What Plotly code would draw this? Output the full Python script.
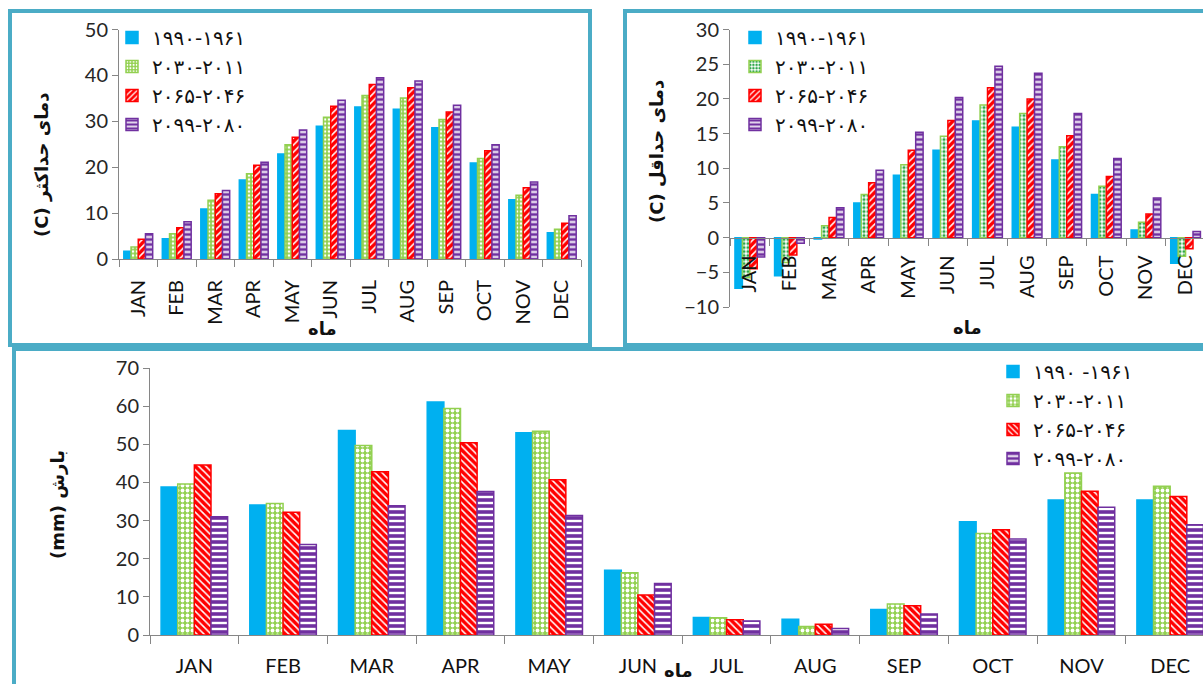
import plotly.graph_objects as go

W, H = 1203, 684

months = ["JAN", "FEB", "MAR", "APR", "MAY", "JUN", "JUL", "AUG", "SEP", "OCT", "NOV", "DEC"]
periods = ["۱۹۹۰-۱۹۶۱", "۲۰۳۰-۲۰۱۱", "۲۰۶۵-۲۰۴۶", "۲۰۹۹-۲۰۸۰"]
periods_precip = ["۱۹۹۰ -۱۹۶۱", "۲۰۳۰-۲۰۱۱", "۲۰۶۵-۲۰۴۶", "۲۰۹۹-۲۰۸۰"]

# Maximum temperature (C)
tmax_1961_1990 = [1.7, 4.4, 10.9, 17.2, 22.9, 28.9, 33.1, 32.6, 28.6, 20.9, 12.9, 5.7]
tmax_2011_2030 = [2.6, 5.5, 12.8, 18.6, 24.9, 30.9, 35.6, 35.1, 30.4, 21.9, 13.9, 6.5]
tmax_2046_2065 = [4.3, 6.8, 14.2, 20.4, 26.5, 33.3, 38.0, 37.3, 32.0, 23.6, 15.5, 7.8]
tmax_2080_2099 = [5.5, 8.1, 14.9, 21.1, 28.1, 34.6, 39.5, 38.8, 33.5, 24.9, 16.8, 9.4]

# Minimum temperature (C)
tmin_1961_1990 = [-7.3, -5.5, -0.2, 5.0, 9.0, 12.6, 16.8, 15.9, 11.2, 6.2, 1.1, -3.7]
tmin_2011_2030 = [-5.8, -3.6, 1.7, 6.2, 10.5, 14.6, 19.1, 17.9, 13.1, 7.4, 2.2, -2.7]
tmin_2046_2065 = [-4.5, -2.5, 2.9, 7.9, 12.6, 16.9, 21.6, 20.0, 14.7, 8.8, 3.4, -1.6]
tmin_2080_2099 = [-2.8, -0.8, 4.3, 9.7, 15.2, 20.2, 24.7, 23.7, 17.9, 11.4, 5.7, 0.9]

# Precipitation (mm)
prec_1961_1990 = [38.8, 34.1, 53.6, 61.1, 53.0, 17.0, 4.6, 4.1, 6.7, 29.7, 35.4, 35.4]
prec_2011_2030 = [39.6, 34.5, 49.7, 59.4, 53.4, 16.3, 4.5, 2.2, 8.1, 26.6, 42.5, 39.0]
prec_2046_2065 = [44.6, 32.2, 42.8, 50.4, 40.7, 10.5, 4.0, 2.8, 7.7, 27.6, 37.7, 36.3]
prec_2080_2099 = [31.0, 23.7, 33.9, 37.6, 31.3, 13.5, 3.7, 1.7, 5.5, 25.2, 33.5, 28.9]


def px(x):
    return x / W


def py(y):
    return 1 - y / H


BLUE, GREEN, RED, PURPLE = "#00B0F0", "#92D050", "#FF0000", "#7030A0"
colors = [BLUE, GREEN, RED, PURPLE]

pat_top_left = [
    dict(shape=""),
    dict(shape=".", bgcolor=GREEN, fgcolor="white", size=4, solidity=0.35, fillmode="replace"),
    dict(shape="/", bgcolor=RED, fgcolor="white", size=5, solidity=0.3, fillmode="replace"),
    dict(shape="-", bgcolor=PURPLE, fgcolor="white", size=5, solidity=0.4, fillmode="replace"),
]
pat_top_right = [
    dict(shape=""),
    dict(shape=".", bgcolor="white", fgcolor="#2EA84A", size=4, solidity=0.5, fillmode="replace"),
    dict(shape="/", bgcolor=RED, fgcolor="white", size=5, solidity=0.3, fillmode="replace"),
    dict(shape="-", bgcolor=PURPLE, fgcolor="white", size=5, solidity=0.4, fillmode="replace"),
]
pat_bottom = [
    dict(shape=""),
    dict(shape=".", bgcolor=GREEN, fgcolor="white", size=5, solidity=0.45, fillmode="replace"),
    dict(shape="\\", bgcolor=RED, fgcolor="white", size=5, solidity=0.3, fillmode="replace"),
    dict(shape="-", bgcolor=PURPLE, fgcolor="white", size=6, solidity=0.4, fillmode="replace"),
]

fig = go.Figure()


def add_group(series, labels, patterns, xa, ya, legend):
    for vals, lab, col, pat in zip(series, labels, colors, patterns):
        fig.add_trace(go.Bar(
            x=months, y=vals, name=lab, xaxis=xa, yaxis=ya, legend=legend,
            marker=dict(color=col, line=dict(color=col, width=1.5), pattern=pat),
            hoverinfo="x+y+name",
        ))


add_group([tmax_1961_1990, tmax_2011_2030, tmax_2046_2065, tmax_2080_2099],
          periods, pat_top_left, "x", "y", "legend")
add_group([tmin_1961_1990, tmin_2011_2030, tmin_2046_2065, tmin_2080_2099],
          periods, pat_top_right, "x2", "y2", "legend2")
add_group([prec_1961_1990, prec_2011_2030, prec_2046_2065, prec_2080_2099],
          periods_precip, pat_bottom, "x3", "y3", "legend3")

AX = "#868686"
TICKFONT = dict(family="Lato", size=20, color="#262626")
XFONT = dict(family="Lato", size=20, color="#111111")

xcommon = dict(type="category", showline=True, linecolor=AX, linewidth=1, ticks="outside",
               tickson="boundaries", ticklen=7, tickcolor=AX, showgrid=False, zeroline=False,
               tickfont=XFONT, fixedrange=True, automargin=False)
ycommon = dict(showline=True, linecolor=AX, linewidth=1, ticks="outside", ticklen=6,
               tickcolor=AX, showgrid=False, zeroline=False, tickfont=TICKFONT, fixedrange=True,
               automargin=False)

legcommon = dict(xanchor="left", yanchor="top", bgcolor="rgba(0,0,0,0)",
                 font=dict(family="DejaVu Sans", size=20, color="#111111"), tracegroupgap=0)

fig.update_layout(
    width=W, height=H, autosize=False,
    margin=dict(l=0, r=0, t=0, b=0, pad=0, autoexpand=False),
    paper_bgcolor="white", plot_bgcolor="white",
    barmode="group", bargap=0.25, bargroupgap=0,
    xaxis=dict(xcommon, domain=[px(119), px(581)], anchor="y", tickangle=-90, range=[-0.5, 11.5],
               ticklabelstandoff=12),
    yaxis=dict(ycommon, domain=[py(259), py(29.5)], anchor="x", range=[0, 50], dtick=10),
    xaxis2=dict(xcommon, domain=[px(730), 1.0], anchor="free", position=py(237.5),
                tickangle=-90, range=[-0.5, 11.44], ticklabelstandoff=9),
    yaxis2=dict(ycommon, domain=[py(307), py(29.5)], anchor="x2", range=[-10, 30], dtick=5),
    xaxis3=dict(xcommon, domain=[px(150), 1.0], anchor="y3", tickangle=0, range=[-0.5, 11.37],
                ticklen=8, ticklabelstandoff=13),
    yaxis3=dict(ycommon, domain=[py(635), py(368)], anchor="x3", range=[0, 70], dtick=10),
    legend=dict(legcommon, x=px(112), y=py(18)),
    legend2=dict(legcommon, x=px(735), y=py(18)),
    legend3=dict(legcommon, x=px(993), y=py(352)),
    showlegend=True,
)

BORDER = "#4BACC6"
for (x0, y0, x1, y1) in [(10, 11, 590, 345), (625, 11, 1215, 345), (14, 349, 1215, 700)]:
    fig.add_shape(type="rect", xref="paper", yref="paper",
                  x0=px(x0), x1=px(x1), y0=py(y1), y1=py(y0),
                  line=dict(color=BORDER, width=4), fillcolor="rgba(0,0,0,0)", layer="below")

TITLEFONT = dict(family="DejaVu Sans", size=18, color="#111111")
annots = [
    ("<b>(C) دمای حداکثر</b>", 42, 165, -90),
    ("<b>(C) دمای حداقل</b>", 656, 152, -90),
    ("<b>(mm) بارش</b>", 57, 505, -90),
    ("<b>ماه</b>", 322, 328, 0),
    ("<b>ماه</b>", 967, 327, 0),
    ("<b>ماه</b>", 678, 670, 0),
]
for text, x, y, ang in annots:
    fig.add_annotation(text=text, xref="paper", yref="paper", x=px(x), y=py(y),
                       showarrow=False, textangle=ang, font=TITLEFONT,
                       xanchor="center", yanchor="middle")

fig.write_html("out.html", config={"displayModeBar": False},
               post_script="document.body.style.margin='0';document.body.style.overflow='hidden';")
